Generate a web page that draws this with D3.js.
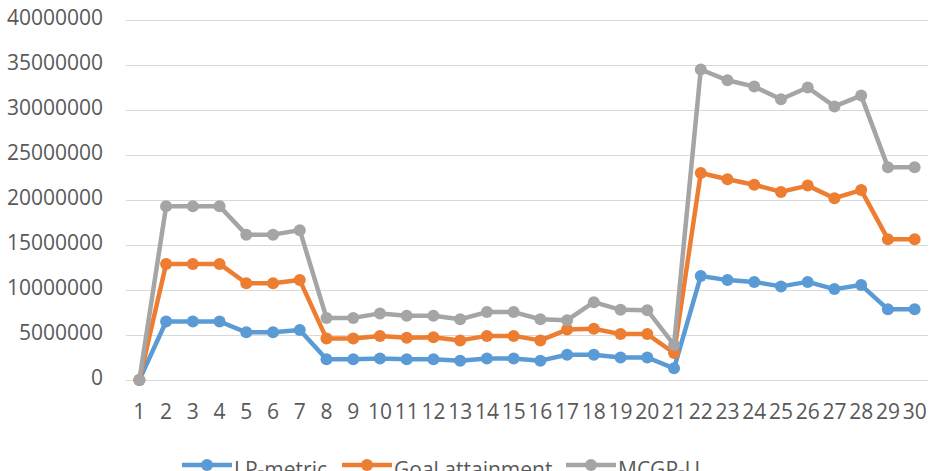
<!DOCTYPE html>
<html>
<head>
<meta charset="utf-8">
<script src="https://cdn.jsdelivr.net/npm/d3@7"></script>
<style>
  body { margin: 0; background: #fff; }
  text { font-family: "Open Sans", "Liberation Sans", sans-serif; fill: #595959; }
</style>
</head>
<body>
<div id="chart"></div>
<script>
var svgWidth = 936;
var svgHeight = 471;

// data
var categories = d3.range(1, 31).map(String);
var lpMetric = [0, 6500000, 6500000, 6500000, 5300000, 5300000, 5550000, 2300000, 2300000, 2400000,
    2300000, 2300000, 2150000, 2400000, 2400000, 2150000, 2800000, 2800000, 2500000, 2500000,
    1300000, 11550000, 11100000, 10900000, 10400000, 10900000, 10100000, 10550000, 7850000, 7850000];
var goalAttainment = [0, 12900000, 12900000, 12900000, 10750000, 10750000, 11100000, 4600000, 4600000, 4900000,
    4700000, 4750000, 4400000, 4900000, 4900000, 4400000, 5600000, 5700000, 5100000, 5100000,
    3000000, 23000000, 22300000, 21700000, 20900000, 21600000, 20200000, 21100000, 15650000, 15650000];
var mcgpU = [0, 19300000, 19300000, 19300000, 16150000, 16150000, 16650000, 6900000, 6900000, 7400000,
    7150000, 7150000, 6750000, 7550000, 7550000, 6750000, 6650000, 8650000, 7800000, 7750000,
    3900000, 34500000, 33300000, 32600000, 31200000, 32500000, 30400000, 31600000, 23650000, 23650000];
var yTicks = [0, 5000000, 10000000, 15000000, 20000000, 25000000, 30000000, 35000000, 40000000];

var series = [
    { name: "LP-metric", values: lpMetric, color: "#5B9BD5" },
    { name: "Goal attainment", values: goalAttainment, color: "#ED7D31" },
    { name: "MCGP-U", values: mcgpU, color: "#A5A5A5" }
];

var margin = { top: 20, right: 8, bottom: 91, left: 126 };
var chartWidth = svgWidth - margin.left - margin.right;
var chartHeight = svgHeight - margin.top - margin.bottom;

var svg = d3.select("#chart")
    .append("svg")
    .attr("width", svgWidth)
    .attr("height", svgHeight);

var chartGroup = svg.append("g")
    .attr("transform", `translate(${margin.left}, ${margin.top})`);

var xScale = d3.scaleBand()
    .domain(categories)
    .range([0, chartWidth]);

var yScale = d3.scaleLinear()
    .domain([0, 40000000])
    .range([chartHeight, 0]);

// gridlines + y labels
var yAxis = d3.axisLeft(yScale)
    .tickValues(yTicks)
    .tickFormat(d3.format("d"))
    .tickSize(-chartWidth)
    .tickPadding(23);

var yG = chartGroup.append("g").call(yAxis);
yG.select(".domain").remove();
yG.selectAll(".tick line").attr("stroke", "#D9D9D9").attr("stroke-width", 1);
yG.selectAll(".tick text")
    .attr("font-size", "21px")
    .attr("dy", "0.2em")
    .style("fill", "#595959");

// x labels
var xAxis = d3.axisBottom(xScale).tickSize(0).tickPadding(24);
var xG = chartGroup.append("g")
    .attr("transform", `translate(0, ${chartHeight})`)
    .call(xAxis);
xG.select(".domain").attr("stroke", "#D9D9D9");
xG.selectAll(".tick text")
    .attr("font-size", "21px")
    .style("fill", "#595959");

var line = d3.line()
    .x((d, i) => xScale(categories[i]) + xScale.bandwidth() / 2)
    .y(d => yScale(d));

series.forEach(function(s) {
    chartGroup.append("path")
        .datum(s.values)
        .attr("fill", "none")
        .attr("stroke", s.color)
        .attr("stroke-width", 4.5)
        .attr("stroke-linejoin", "round")
        .attr("d", line);

    chartGroup.selectAll(null)
        .data(s.values)
        .enter()
        .append("circle")
        .attr("cx", (d, i) => xScale(categories[i]) + xScale.bandwidth() / 2)
        .attr("cy", d => yScale(d))
        .attr("r", 6)
        .attr("fill", s.color);
});

// legend
var legendX = [182, 342, 566];
var legendY = 465;
series.forEach(function(s, i) {
    var g = svg.append("g").attr("transform", `translate(${legendX[i]}, ${legendY})`);
    g.append("line")
        .attr("x1", 0).attr("x2", 50)
        .attr("y1", 0).attr("y2", 0)
        .attr("stroke", s.color)
        .attr("stroke-width", 4.5);
    g.append("circle")
        .attr("cx", 25).attr("cy", 0).attr("r", 6)
        .attr("fill", s.color);
    g.append("text")
        .attr("x", 52)
        .attr("y", 12)
        .attr("font-size", "21px")
        .text(s.name);
});
</script>
</body>
</html>
